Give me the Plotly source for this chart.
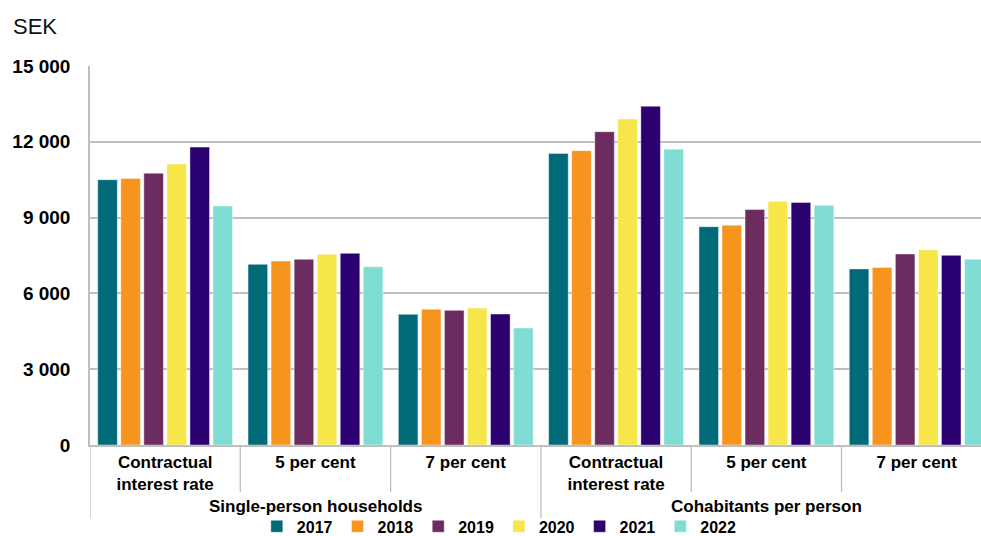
import plotly.graph_objects as go

# Monthly housing cost, SEK, by interest-rate scenario
households = ["Single-person households", "Cohabitants per person"]
scenarios = ["Contractual<br>interest rate", "5 per cent", "7 per cent"]
years = ["2017", "2018", "2019", "2020", "2021", "2022"]

# one list per year: single-person (contractual, 5 %, 7 %), then cohabitants (contractual, 5 %, 7 %)
values_2017 = [10500, 7150, 5170, 11540, 8640, 6970]
values_2018 = [10550, 7280, 5370, 11650, 8700, 7030]
values_2019 = [10760, 7350, 5330, 12400, 9320, 7560]
values_2020 = [11120, 7545, 5420, 12900, 9640, 7730]
values_2021 = [11790, 7585, 5185, 13410, 9600, 7505]
values_2022 = [9460, 7055, 4630, 11710, 9485, 7350]
series = [values_2017, values_2018, values_2019, values_2020, values_2021, values_2022]

colors = ["#006a79", "#f7941d", "#6c2c5f", "#f6e64a", "#2b0070", "#7fddd4"]

y_tickvals = [0, 3000, 6000, 9000, 12000, 15000]
y_ticktext = ["0", "3 000", "6 000", "9 000", "12 000", "15 000"]

categories = [s for _ in households for s in scenarios]
positions = list(range(len(categories)))

FONT = "Liberation Sans, Arial, sans-serif"
GRID = "#bfbfbf"

fig = go.Figure()
for year, vals, col in zip(years, series, colors):
    fig.add_trace(go.Bar(
        x=positions, y=vals, name=year,
        marker=dict(color=col, line=dict(color="rgba(255,255,255,0.55)", width=0.8)),
    ))

# dividers below the axis: short between scenarios, long between household types
shapes = []
n_per = len(scenarios)
for i in range(len(categories) + 1):
    xv = i - 0.5
    outer = i % n_per == 0
    shapes.append(dict(
        type="line", xref="x", yref="paper", x0=xv, x1=xv,
        y0=0, y1=-0.193 if outer else -0.124,
        line=dict(color=GRID, width=1.3), layer="above",
    ))

annotations = []
for g, name in enumerate(households):
    annotations.append(dict(
        text=name, xref="x", yref="paper",
        x=g * n_per + (n_per - 1) / 2, y=-0.161,
        xanchor="center", yanchor="middle", showarrow=False,
        font=dict(family=FONT, size=17, color="#000000", weight="bold"),
    ))
annotations.append(dict(
    text="SEK", xref="paper", yref="paper", x=-0.089, y=1.104,
    xanchor="left", yanchor="middle", showarrow=False,
    font=dict(family=FONT, size=22, color="#111111"),
))

fig.update_layout(
    width=981, height=536,
    margin=dict(l=90, r=0, t=66, b=91),
    paper_bgcolor="white", plot_bgcolor="white",
    barmode="group", bargap=0.08, bargroupgap=0.15,
    font=dict(family=FONT, color="#000000"),
    shapes=shapes, annotations=annotations,
    showlegend=True,
    legend=dict(
        orientation="h", xref="container", yref="container",
        x=0.509, xanchor="center", y=0.018, yanchor="middle",
        font=dict(family=FONT, size=16, color="#000000", weight="bold"),
        itemwidth=30, tracegroupgap=0, bgcolor="rgba(0,0,0,0)",
    ),
)

fig.update_xaxes(
    range=[-0.5, 5.428], tickmode="array", tickvals=positions, ticktext=categories,
    ticks="", showgrid=False, zeroline=False,
    showline=True, linecolor=GRID, linewidth=1.5,
    tickfont=dict(family=FONT, size=17, color="#000000", weight="bold"),
    ticklabelstandoff=1,
)
fig.update_yaxes(
    range=[0, 15000], tickmode="array", tickvals=y_tickvals, ticktext=y_ticktext,
    showgrid=True, gridcolor=GRID, gridwidth=1.5, zeroline=False,
    showline=True, linecolor=GRID, linewidth=1.5, ticks="",
    tickfont=dict(family=FONT, size=19, color="#000000", weight="bold"),
    ticklabelstandoff=14,
)

fig.write_html("out.html")
